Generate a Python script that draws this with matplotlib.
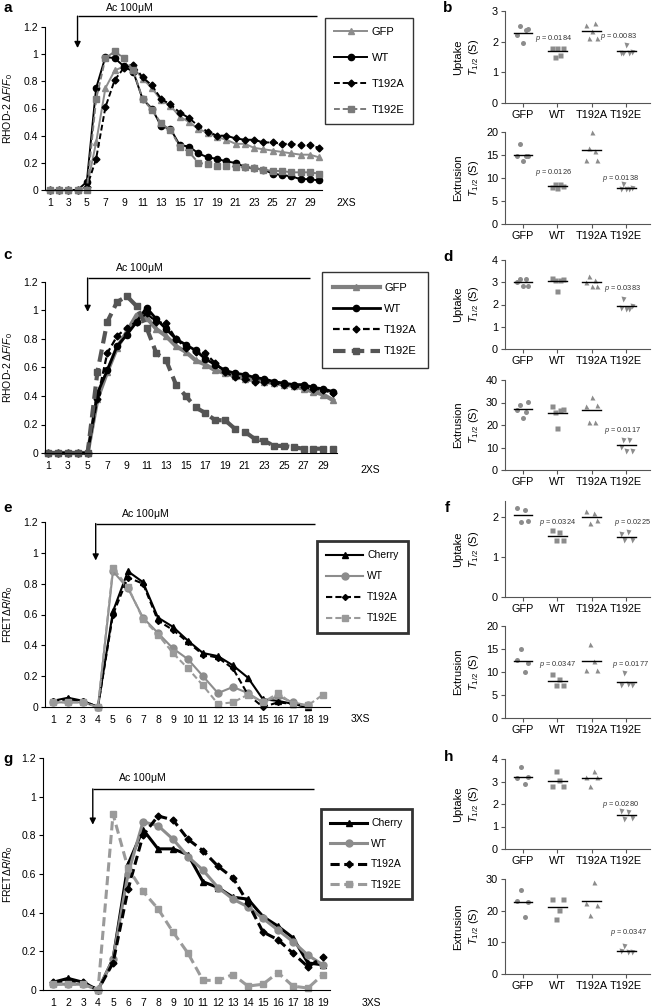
import numpy as np
import matplotlib
matplotlib.use('Agg')
import matplotlib.pyplot as plt

plt.rcParams['font.family'] = ['Liberation Sans', 'DejaVu Sans']
plt.rcParams['mathtext.fontset'] = 'custom'
plt.rcParams['mathtext.rm'] = 'Liberation Sans'
plt.rcParams['mathtext.it'] = 'Liberation Sans:italic'
plt.rcParams['mathtext.bf'] = 'Liberation Sans:bold'

# ---------------- data ----------------
a_x = np.arange(1, 31)
a_gfp = [0, 0, 0, 0, 0.02, 0.35, 0.75, 0.88, 0.91, 0.90, 0.82, 0.75, 0.66, 0.62, 0.54,
         0.50, 0.45, 0.42, 0.39, 0.37, 0.34, 0.34, 0.31, 0.30, 0.29, 0.28, 0.27, 0.26, 0.26, 0.24]
a_wt = [0, 0, 0, 0, 0.06, 0.75, 0.98, 0.97, 0.91, 0.87, 0.67, 0.60, 0.47, 0.45, 0.33,
        0.32, 0.27, 0.24, 0.23, 0.21, 0.20, 0.17, 0.16, 0.15, 0.12, 0.11, 0.10, 0.08, 0.08, 0.07]
a_t192a = [0, 0, 0, 0, 0.02, 0.23, 0.61, 0.81, 0.90, 0.92, 0.83, 0.77, 0.67, 0.63, 0.57,
           0.53, 0.47, 0.43, 0.40, 0.40, 0.38, 0.37, 0.37, 0.35, 0.35, 0.34, 0.34, 0.33, 0.33, 0.31]
a_t192e = [0, 0, 0, 0, 0, 0.67, 0.97, 1.02, 0.97, 0.88, 0.67, 0.59, 0.49, 0.44, 0.32,
           0.28, 0.20, 0.19, 0.18, 0.18, 0.17, 0.17, 0.16, 0.15, 0.14, 0.14, 0.13, 0.13, 0.13, 0.12]

c_x = np.arange(1, 31)
c_gfp = [0, 0, 0, 0, 0, 0.38, 0.57, 0.74, 0.85, 0.97, 0.95, 0.87, 0.82, 0.75, 0.71,
         0.65, 0.62, 0.58, 0.56, 0.54, 0.52, 0.51, 0.50, 0.49, 0.48, 0.47, 0.45, 0.43, 0.41, 0.37]
c_wt = [0, 0, 0, 0, 0, 0.42, 0.58, 0.75, 0.83, 0.92, 1.02, 0.94, 0.87, 0.80, 0.76,
        0.72, 0.66, 0.62, 0.58, 0.56, 0.55, 0.53, 0.52, 0.50, 0.49, 0.48, 0.48, 0.46, 0.45, 0.43]
c_t192a = [0, 0, 0, 0, 0, 0.38, 0.70, 0.82, 0.88, 0.92, 0.98, 0.92, 0.91, 0.80, 0.74,
           0.71, 0.70, 0.63, 0.57, 0.53, 0.52, 0.50, 0.50, 0.49, 0.48, 0.47, 0.46, 0.45, 0.44, 0.42]
c_t192e = [0, 0, 0, 0, 0, 0.57, 0.92, 1.06, 1.10, 1.03, 0.88, 0.70, 0.65, 0.48, 0.40,
           0.32, 0.28, 0.23, 0.23, 0.17, 0.15, 0.10, 0.085, 0.05, 0.05, 0.04, 0.03, 0.03, 0.03, 0.03]

e_x = np.arange(1, 20)
nan = np.nan
e_cherry = [0.04, 0.06, 0.04, 0.0, 0.62, 0.88, 0.81, 0.58, 0.52, 0.43, 0.35, 0.33, 0.27, 0.19,
            0.05, 0.04, 0.02, 0.0, nan]
e_wt = [0.03, 0.03, 0.03, 0.0, 0.88, 0.77, 0.58, 0.48, 0.38, 0.31, 0.20, 0.09, 0.13, 0.09,
        0.03, 0.07, 0.03, 0.01, nan]
e_t192a = [0.04, 0.05, 0.04, 0.0, 0.60, 0.84, 0.80, 0.56, 0.50, 0.42, 0.34, 0.32, 0.25, 0.08,
           0.0, 0.03, 0.02, 0.0, nan]
e_t192e = [0.03, 0.03, 0.03, 0.0, 0.90, 0.78, 0.57, 0.47, 0.35, 0.25, 0.14, 0.02, 0.03, 0.08,
           0.03, 0.09, 0.02, 0.01, 0.08]

g_x = np.arange(1, 20)
g_cherry = [0.04, 0.06, 0.04, 0.0, 0.16, 0.65, 0.83, 0.73, 0.73, 0.70, 0.56, 0.53, 0.48, 0.47,
            0.38, 0.33, 0.27, 0.14, 0.13]
g_wt = [0.03, 0.03, 0.03, 0.0, 0.16, 0.60, 0.87, 0.85, 0.78, 0.69, 0.62, 0.53, 0.47, 0.43,
        0.37, 0.31, 0.25, 0.18, 0.13]
g_t192a = [0.04, 0.05, 0.04, 0.0, 0.14, 0.52, 0.80, 0.90, 0.88, 0.78, 0.72, 0.64, 0.58, 0.45,
           0.30, 0.26, 0.19, 0.12, 0.17]
g_t192e = [0.03, 0.03, 0.03, 0.0, 0.91, 0.63, 0.51, 0.42, 0.30, 0.19, 0.05, 0.05, 0.08, 0.02,
           0.03, 0.09, 0.02, 0.01, 0.08]

groups = ['GFP', 'WT', 'T192A', 'T192E']
b_uptake = [[2.23, 2.50, 1.96, 2.38, 2.42], [1.78, 1.50, 1.80, 1.57, 1.78],
            [2.55, 2.13, 2.35, 2.62, 2.13], [1.62, 1.62, 1.90, 1.62, 1.65]]
b_extrusion = [[14.7, 17.5, 13.7, 14.7, 14.8], [8.1, 8.6, 7.9, 8.8, 8.3],
               [14.0, 16.5, 20.0, 15.8, 14.0], [7.7, 8.6, 7.6, 7.7, 7.9]]
d_uptake = [[3.0, 3.15, 2.85, 3.13, 2.85], [3.2, 3.1, 2.6, 3.12, 3.15],
            [3.0, 3.28, 2.83, 3.1, 2.83], [1.85, 2.25, 1.8, 1.8, 1.95]]
d_extrusion = [[26.5, 29.0, 23.0, 26.0, 30.3], [28.6, 25.6, 18.8, 26.7, 27.1],
               [28.5, 21.5, 32.6, 21.5, 29.0], [10.3, 13.5, 8.6, 13.5, 8.6]]
f_uptake = [[2.23, 1.88, 2.17, 1.90], [1.67, 1.42, 1.63, 1.42],
            [2.15, 1.86, 2.10, 1.93], [1.57, 1.42, 1.63, 1.42]]
f_extrusion = [[12.6, 14.9, 10.0, 11.9], [9.5, 7.2, 8.4, 7.2],
               [10.5, 16.1, 12.3, 10.5], [7.1, 9.75, 7.4, 7.1]]
h_uptake = [[3.15, 3.65, 2.90, 3.18], [2.81, 3.45, 3.05, 2.81],
            [3.20, 2.78, 3.45, 3.18], [1.67, 1.33, 1.63, 1.38]]
h_extrusion = [[23.2, 26.6, 18.0, 22.6], [23.7, 17.4, 20.3, 23.7],
               [22.4, 18.7, 29.0, 21.7], [7.2, 8.7, 6.8, 6.8]]

# ---------------- figure ----------------
W, H = 653, 1008
fig = plt.figure(figsize=(W / 100, H / 100), dpi=100)


def add_ax(x0, y0, x1, y1):
    return fig.add_axes([x0 / W, 1 - y1 / H, (x1 - x0) / W, (y1 - y0) / H])


def ftext(x, y, s, **kw):
    kw.setdefault('ha', 'center')
    kw.setdefault('va', 'center')
    fig.text(x / W, 1 - y / H, s, **kw)


def style_line_ax(ax, xlim, xticks, ylabel, labx):
    ax.set_xlim(*xlim)
    ax.set_ylim(0, 1.2)
    for s in ['top', 'right']:
        ax.spines[s].set_visible(False)
    ax.set_xticks(xticks)
    ax.set_xticklabels([str(t) for t in xticks])
    ax.set_yticks([0, 0.2, 0.4, 0.6, 0.8, 1.0, 1.2])
    ax.set_yticklabels(['0', '0.2', '0.4', '0.6', '0.8', '1', '1.2'])
    ax.tick_params(axis='x', length=0, pad=6, labelsize=7.5)
    ax.tick_params(axis='y', length=3, pad=2, labelsize=7.5)
    ax.set_ylabel(ylabel, fontsize=7.5)
    ax.yaxis.set_label_coords(labx, 0.5)


def arrow(ax, x, ytop, ytip, xend):
    ax.plot([x, xend], [ytop, ytop], color='black', lw=1, clip_on=False, solid_capstyle='butt')
    ax.annotate('', xy=(x, ytip), xytext=(x, ytop),
                arrowprops=dict(arrowstyle='-|>', color='black', lw=1, mutation_scale=9,
                                shrinkA=0, shrinkB=0), annotation_clip=False)


def legend(ax, box_xy, fontsize, hl, ls, lw_frame, bp=0.9):
    leg = ax.legend(loc='upper left', bbox_to_anchor=(box_xy[0] / W, 1 - box_xy[1] / H),
                    bbox_transform=fig.transFigure, frameon=True, fancybox=False,
                    edgecolor='black', fontsize=fontsize, handlelength=hl, labelspacing=ls,
                    borderpad=bp, handletextpad=0.4, borderaxespad=0)
    leg.get_frame().set_linewidth(lw_frame)
    return leg


rhod_label = r'RHOD-2 $\Delta\mathit{F}/\mathit{F}_0$'
fret_label = r'FRET$\Delta\mathit{R}/\mathit{R}_0$'

# ---- panel a ----
ax = add_ax(45, 27, 322, 190)
ax.plot(a_x, a_gfp, color='#8c8c8c', lw=1.4, marker='^', ms=4.5, label='GFP', clip_on=False)
ax.plot(a_x, a_wt, color='black', lw=1.4, marker='o', ms=4.5, label='WT', clip_on=False)
ax.plot(a_x, a_t192a, color='black', lw=1.4, ls=(0, (3, 1.5)), marker='D', ms=3.5, label='T192A', clip_on=False)
ax.plot(a_x, a_t192e, color='#7a7a7a', lw=1.4, ls=(0, (3, 1.5)), marker='s', ms=4.5, label='T192E', clip_on=False)
style_line_ax(ax, (0.5, 30.3), list(range(1, 30, 2)), rhod_label, -0.108)
arrow(ax, 4, 1.28, 1.045, 29.8)
ftext(129, 8, r'Ac 100$\mathrm{\mu}$M', fontsize=7.5)
ftext(346, 203, '2XS', fontsize=7.5)
legend(ax, (325, 18), 8, 3.0, 1.45, 1.0, bp=0.8)

# ---- panel c ----
ax = add_ax(45, 282, 337, 453)
ax.plot(c_x, c_gfp, color='#808080', lw=3, marker='^', ms=5, label='GFP', clip_on=False)
ax.plot(c_x, c_wt, color='black', lw=2, marker='o', ms=4.5, label='WT', clip_on=False)
ax.plot(c_x, c_t192a, color='black', lw=1.6, ls=(0, (3, 1.5)), marker='D', ms=3.5, label='T192A', clip_on=False)
ax.plot(c_x, c_t192e, color='#555555', lw=3, ls=(0, (3, 1.5)), marker='s', ms=5, label='T192E', clip_on=False)
style_line_ax(ax, (0.66, 30.4), list(range(1, 30, 2)), rhod_label, -0.103)
arrow(ax, 5, 1.228, 0.99, 27.6)
ftext(139, 268, r'Ac 100$\mathrm{\mu}$M', fontsize=7.5)
ftext(370, 470, '2XS', fontsize=7.5)
legend(ax, (322, 272), 8, 4.2, 1.0, 1.0, bp=1.0)

# ---- panel e ----
ax = add_ax(45, 522, 330, 707)
ax.plot(e_x, e_cherry, color='black', lw=1.5, marker='^', ms=5, label='Cherry', clip_on=False)
ax.plot(e_x, e_wt, color='#8c8c8c', lw=1.5, marker='o', ms=5, label='WT', clip_on=False)
ax.plot(e_x, e_t192a, color='black', lw=1.5, ls=(0, (3, 1.5)), marker='D', ms=3, label='T192A', clip_on=False)
ax.plot(e_x, e_t192e, color='#9a9a9a', lw=1.5, ls=(0, (3, 1.5)), marker='s', ms=5, label='T192E', clip_on=False)
style_line_ax(ax, (0.47, 19.47), list(range(1, 20)), fret_label, -0.105)
arrow(ax, 3.85, 1.19, 0.95, 18.5)
ftext(145, 514, r'Ac 100$\mathrm{\mu}$M', fontsize=7.5)
ftext(360, 719, '3XS', fontsize=7.5)
legend(ax, (317, 541), 7.5, 3.5, 1.05, 2.0)

# ---- panel g ----
ax = add_ax(43, 758, 330, 990)
ax.plot(g_x, g_cherry, color='black', lw=2.2, marker='^', ms=5, label='Cherry', clip_on=False)
ax.plot(g_x, g_wt, color='#8c8c8c', lw=2.2, marker='o', ms=5, label='WT', clip_on=False)
ax.plot(g_x, g_t192a, color='black', lw=2.2, ls=(0, (3, 1.5)), marker='D', ms=3.5, label='T192A', clip_on=False)
ax.plot(g_x, g_t192e, color='#9a9a9a', lw=2.2, ls=(0, (3, 1.5)), marker='s', ms=5, label='T192E', clip_on=False)
style_line_ax(ax, (0.33, 19.47), list(range(1, 20)), fret_label, -0.098)
arrow(ax, 3.65, 1.04, 0.855, 18.4)
ftext(142, 778, r'Ac 100$\mathrm{\mu}$M', fontsize=7.5)
ftext(371, 1003, '3XS', fontsize=7.5)
legend(ax, (321, 809), 7.5, 3.5, 1.0, 2.0)

# ---------------- dot plots ----------------
markers = ['o', 's', '^', 'v']


def dot_panel(box, data, ylim, yticks, ylabel):
    ax = add_ax(*box)
    for i, (vals, m) in enumerate(zip(data, markers)):
        n = len(vals)
        off = np.linspace(-0.16, 0.16, n)
        ax.plot(i + off, vals, ls='none', marker=m, ms=3.6, color='#8c8c8c', mec='none', clip_on=False)
        mu = np.mean(vals)
        ax.plot([i - 0.27, i + 0.27], [mu, mu], color='black', lw=1)
    ax.set_xlim(-0.52, 3.69)
    ax.set_ylim(*ylim)
    ax.set_yticks(yticks)
    ax.set_xticks(range(4))
    ax.set_xticklabels(groups)
    for s in ['top', 'right']:
        ax.spines[s].set_visible(False)
    ax.spines['left'].set_color('#555555')
    ax.spines['bottom'].set_color('#555555')
    ax.tick_params(axis='both', length=3, pad=2, labelsize=7.8, color='#555555')
    ax.set_ylabel(ylabel, fontsize=8, linespacing=1.4)
    ax.yaxis.set_label_coords(-0.165, 0.5)
    return ax


up_lab = 'Uptake\n$\\mathit{T}_{1/2}$ (S)'
ex_lab = 'Extrusion\n$\\mathit{T}_{1/2}$ (S)'

dot_panel((505, 11, 650, 103), b_uptake, (0, 3), [0, 1, 2, 3], up_lab)
dot_panel((505, 132, 650, 224), b_extrusion, (0, 20), [0, 5, 10, 15, 20], ex_lab)
dot_panel((505, 260, 650, 349), d_uptake, (0, 4), [0, 1, 2, 3, 4], up_lab)
dot_panel((505, 380, 650, 470), d_extrusion, (0, 40), [0, 10, 20, 30, 40], ex_lab)
dot_panel((505, 501, 650, 597), f_uptake, (0, 2.4), [0, 1, 2], up_lab)
dot_panel((505, 626, 650, 718), f_extrusion, (0, 20), [0, 5, 10, 15, 20], ex_lab)
dot_panel((505, 759, 650, 849), h_uptake, (0, 4), [0, 1, 2, 3, 4], up_lab)
dot_panel((505, 879, 650, 974), h_extrusion, (0, 30), [0, 10, 20, 30], ex_lab)

pk = dict(fontsize=5.3, color='#333333')
ftext(554, 38, r'$\mathit{p}$ = 0.0184', **pk)
ftext(618, 37, r'$\mathit{p}$ = 0.0083', **pk)
ftext(553, 172, r'$\mathit{p}$ = 0.0126', **pk)
ftext(620, 179, r'$\mathit{p}$ = 0.0138', **pk)
ftext(622, 288, r'$\mathit{p}$ = 0.0383', **pk)
ftext(622, 430, r'$\mathit{p}$ = 0.0117', **pk)
ftext(558, 523, r'$\mathit{p}$ = 0.0324', **pk)
ftext(632, 523, r'$\mathit{p}$ = 0.0225', **pk)
ftext(557, 665, r'$\mathit{p}$ = 0.0347', **pk)
ftext(630, 665, r'$\mathit{p}$ = 0.0177', **pk)
ftext(620, 804, r'$\mathit{p}$ = 0.0280', **pk)
ftext(628, 933, r'$\mathit{p}$ = 0.0347', **pk)

# panel letters
lk = dict(fontsize=11, fontweight='bold', ha='left')
for (x, y, s) in [(3, 8, 'a'), (443, 8, 'b'), (3, 255, 'c'), (443, 257, 'd'),
                  (3, 508, 'e'), (445, 508, 'f'), (3, 759, 'g'), (444, 757, 'h')]:
    ftext(x, y, s, **lk)

fig.savefig('out.png', dpi=100)
